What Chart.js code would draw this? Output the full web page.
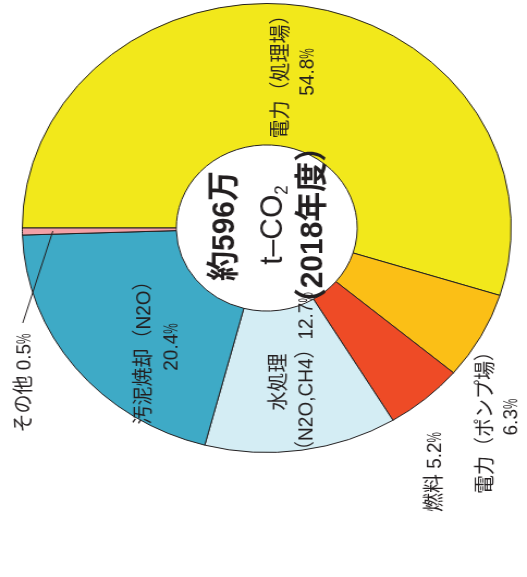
<!DOCTYPE html>
<html lang="ja">
<head>
<meta charset="utf-8">
<title>CO2排出量の内訳</title>
<script src="https://cdn.jsdelivr.net/npm/chart.js@4.4.1/dist/chart.umd.min.js"></script>
<style>
    html, body { margin: 0; padding: 0; background: #fff; overflow: hidden; }
    /* the source picture is a little wider than tall, so the whole canvas is stretched */
    #wrap { position: absolute; left: 0; top: 0; width: 484px; height: 577px;
            transform-origin: 0 0; transform: scaleX(1.0888); }
</style>
</head>
<body>
<div id="wrap"><canvas id="co2Chart"></canvas></div>
<script>
// Data (share of emissions, %)
const categories = ['電力（処理場）', '電力（ポンプ場）', '燃料', '水処理', '汚泥焼却', 'その他'];
const gasNotes = ['', '', '', '（N2O,CH4）', '（N2O）', ''];
const shares = [54.8, 6.3, 5.2, 12.7, 20.4, 0.5];
const centerLines = ['約596万', 't–CO', '（2018年度）'];

const sliceColors = ['#f2e81b', '#fbbf16', '#ee4b26', '#d4edf4', '#3eaac6', '#f3a0a6'];
const INK = '#231f20';
const FAMILY = '"Liberation Sans", "Noto Sans CJK JP", sans-serif';
const STRETCH = 1.0888;

// where each label sits, offsets from the ring centre in page px
// kind: 'stack' = name / value, 'inline' = name value, 'note' = name / note+value, 'nameNote' = name+note / value
const labelLayout = [
    { kind: 'stack', at: [[15, -156], [41, -156]] },
    { kind: 'stack', at: [[220, 190], [245, 189]] },
    { kind: 'inline', at: [[168, 244]] },
    { kind: 'note', at: [[13, 154], [40, 148]] },
    { kind: 'nameNote', at: [[-122, 120], [-95, 119]] },
    { kind: 'inline', at: [[-242, 155]], leaderFrom: [-244, 95] }
];

function pct(v) {
    return v.toFixed(1) + '%';
}

function labelLines(i) {
    const kind = labelLayout[i].kind;
    if (kind === 'stack') return [categories[i], pct(shares[i])];
    if (kind === 'inline') return [categories[i] + ' ' + pct(shares[i])];
    if (kind === 'note') return [categories[i], gasNotes[i] + pct(shares[i])];
    return [categories[i] + gasNotes[i], pct(shares[i])];
}

// split off a trailing % so it can be drawn narrow like the original
function toRuns(str, size, weight) {
    const font = (weight || 'normal') + ' ' + size + 'px ' + FAMILY;
    if (str.endsWith('%')) {
        return [{ t: str.slice(0, -1), font: font }, { t: '%', font: font, sx: 0.62 }];
    }
    return [{ t: str, font: font }];
}

// draws runs rotated a quarter turn, reading bottom to top, centred on x,y
function drawRuns(ctx, runs, x, y) {
    let total = 0;
    runs.forEach(r => {
        ctx.font = r.font;
        r.w = ctx.measureText(r.t).width * (r.sx || 1);
        total += r.w;
    });
    ctx.save();
    ctx.translate(x, y);
    ctx.rotate(-Math.PI / 2);
    ctx.textAlign = 'left';
    ctx.textBaseline = 'middle';
    ctx.fillStyle = INK;
    let pos = -total / 2;
    runs.forEach(r => {
        ctx.save();
        ctx.font = r.font;
        ctx.translate(pos, r.dy || 0);
        ctx.scale(r.sx || 1, 1);
        ctx.fillText(r.t, 0, 0);
        ctx.restore();
        pos += r.w;
    });
    ctx.restore();
}

const ringText = {
    id: 'ringText',
    afterDatasetsDraw(chart) {
        const ctx = chart.ctx;
        const arcs = chart.getDatasetMeta(0).data;
        const cx = arcs[0].x;
        const cy = arcs[0].y;
        const px = d => cx + d / STRETCH;

        // slice labels
        labelLayout.forEach((item, i) => {
            labelLines(i).forEach((line, j) => {
                const pos = item.at[j];
                drawRuns(ctx, toRuns(line, 19), px(pos[0]), cy + pos[1]);
            });
            if (item.leaderFrom) {
                const arc = arcs[i];
                const mid = (arc.startAngle + arc.endAngle) / 2;
                const r = arc.outerRadius - 28;
                ctx.save();
                ctx.strokeStyle = INK;
                ctx.lineWidth = 1;
                ctx.beginPath();
                ctx.moveTo(px(item.leaderFrom[0]), cy + item.leaderFrom[1]);
                ctx.lineTo(arc.x + Math.cos(mid) * r, arc.y + Math.sin(mid) * r);
                ctx.stroke();
                ctx.restore();
            }
        });

        // total in the hole
        drawRuns(ctx, toRuns(centerLines[0], 30, 'bold'), px(-42), cy - 2);
        const co2 = toRuns(centerLines[1], 30, 'normal');
        co2.push({ t: '2', font: 'normal 17px ' + FAMILY, dy: 9 });
        drawRuns(ctx, co2, px(6), cy - 3);
        drawRuns(ctx, toRuns(centerLines[2], 30, 'bold'), px(46), cy - 3);
    }
};

document.addEventListener('DOMContentLoaded', function() {
    const ctx = document.getElementById('co2Chart').getContext('2d');
    new Chart(ctx, {
        type: 'doughnut',
        data: {
            labels: categories,
            datasets: [{
                data: shares,
                backgroundColor: sliceColors,
                borderColor: INK,
                borderWidth: 1
            }]
        },
        options: {
            responsive: true,
            maintainAspectRatio: false,
            animation: false,
            rotation: -90,
            cutout: '37%',
            layout: {
                padding: { left: 20, right: 14, top: 3, bottom: 124 }
            },
            plugins: {
                legend: { display: false },
                tooltip: { enabled: false }
            }
        },
        plugins: [ringText]
    });
});
</script>
</body>
</html>
